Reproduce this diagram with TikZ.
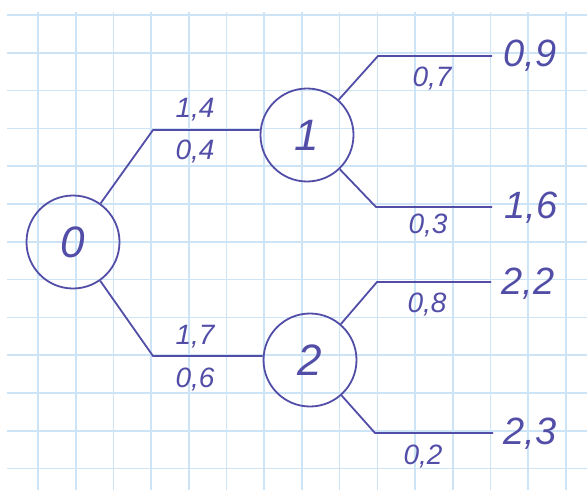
\documentclass[tikz,border=0pt]{standalone}
\usepackage{fontspec}
\setmainfont{Liberation Sans}
\definecolor{ink}{RGB}{82,78,168}
\definecolor{gridc}{RGB}{205,228,246}
\begin{document}
\begin{tikzpicture}[x=1pt,y=-1pt,
  ink line/.style={draw=ink,line width=1.8pt},
  state/.style={circle,draw=ink,line width=1.8pt,minimum size=93pt,inner sep=0pt,text=ink,font=\fontsize{44}{44}\selectfont\itshape},
  small/.style={text=ink,inner sep=0pt,font=\fontsize{28}{28}\selectfont\itshape},
  big/.style={text=ink,inner sep=0pt,font=\fontsize{38}{38}\selectfont\itshape}]
\useasboundingbox (0,0) rectangle (587,490);
\fill[white] (0,0) rectangle (587,490);
% graph paper
\foreach \i in {0,...,14} \draw[gridc,line width=1.6pt] ({38+37.7*\i},12) -- ({38+37.7*\i},490);
\foreach \j in {0,...,12} \draw[gridc,line width=1.6pt] (7,{15+37.8*\j}) -- (587,{15+37.8*\j});
% states
\node[state] (n0) at (73,242) {0};
\node[state] (n1) at (307,135) {1};
\node[state] (n2) at (310,360) {2};
% corners and free ends
\coordinate (c1) at (153,130);
\coordinate (c2) at (153,356);
\coordinate (d1) at (378,56);
\coordinate (e1) at (492,56);
\coordinate (d2) at (376,207);
\coordinate (e2) at (492,207);
\coordinate (d3) at (377,282);
\coordinate (e3) at (491,282);
\coordinate (d4) at (375,433);
\coordinate (e4) at (493,433);
% connectors
\draw[ink line,line join=round] (n0) -- (c1) -- (n1.west |- c1);
\draw[ink line,line join=round] (n0) -- (c2) -- (n2.west |- c2);
\draw[ink line,line join=round] (n1) -- (d1) -- (e1);
\draw[ink line,line join=round] (n1) -- (d2) -- (e2);
\draw[ink line,line join=round] (n2) -- (d3) -- (e3);
\draw[ink line,line join=round] (n2) -- (d4) -- (e4);
% labels
\node[small] (l14) at (195,110) {1,4};
\node[small] (l04) at (195,152) {0,4};
\node[small] (l17) at (195,337) {1,7};
\node[small] (l06) at (195,380) {0,6};
\node[small] (l07) at (432,79) {0,7};
\node[small] (l03) at (428,226) {0,3};
\node[small] (l08) at (427,305) {0,8};
\node[small] (l02) at (423,457) {0,2};
\node[big] (v09) at (530,56) {0,9};
\node[big] (v16) at (531,208) {1,6};
\node[big] (v22) at (528,284) {2,2};
\node[big] (v23) at (530,434) {2,3};
\end{tikzpicture}
\end{document}
